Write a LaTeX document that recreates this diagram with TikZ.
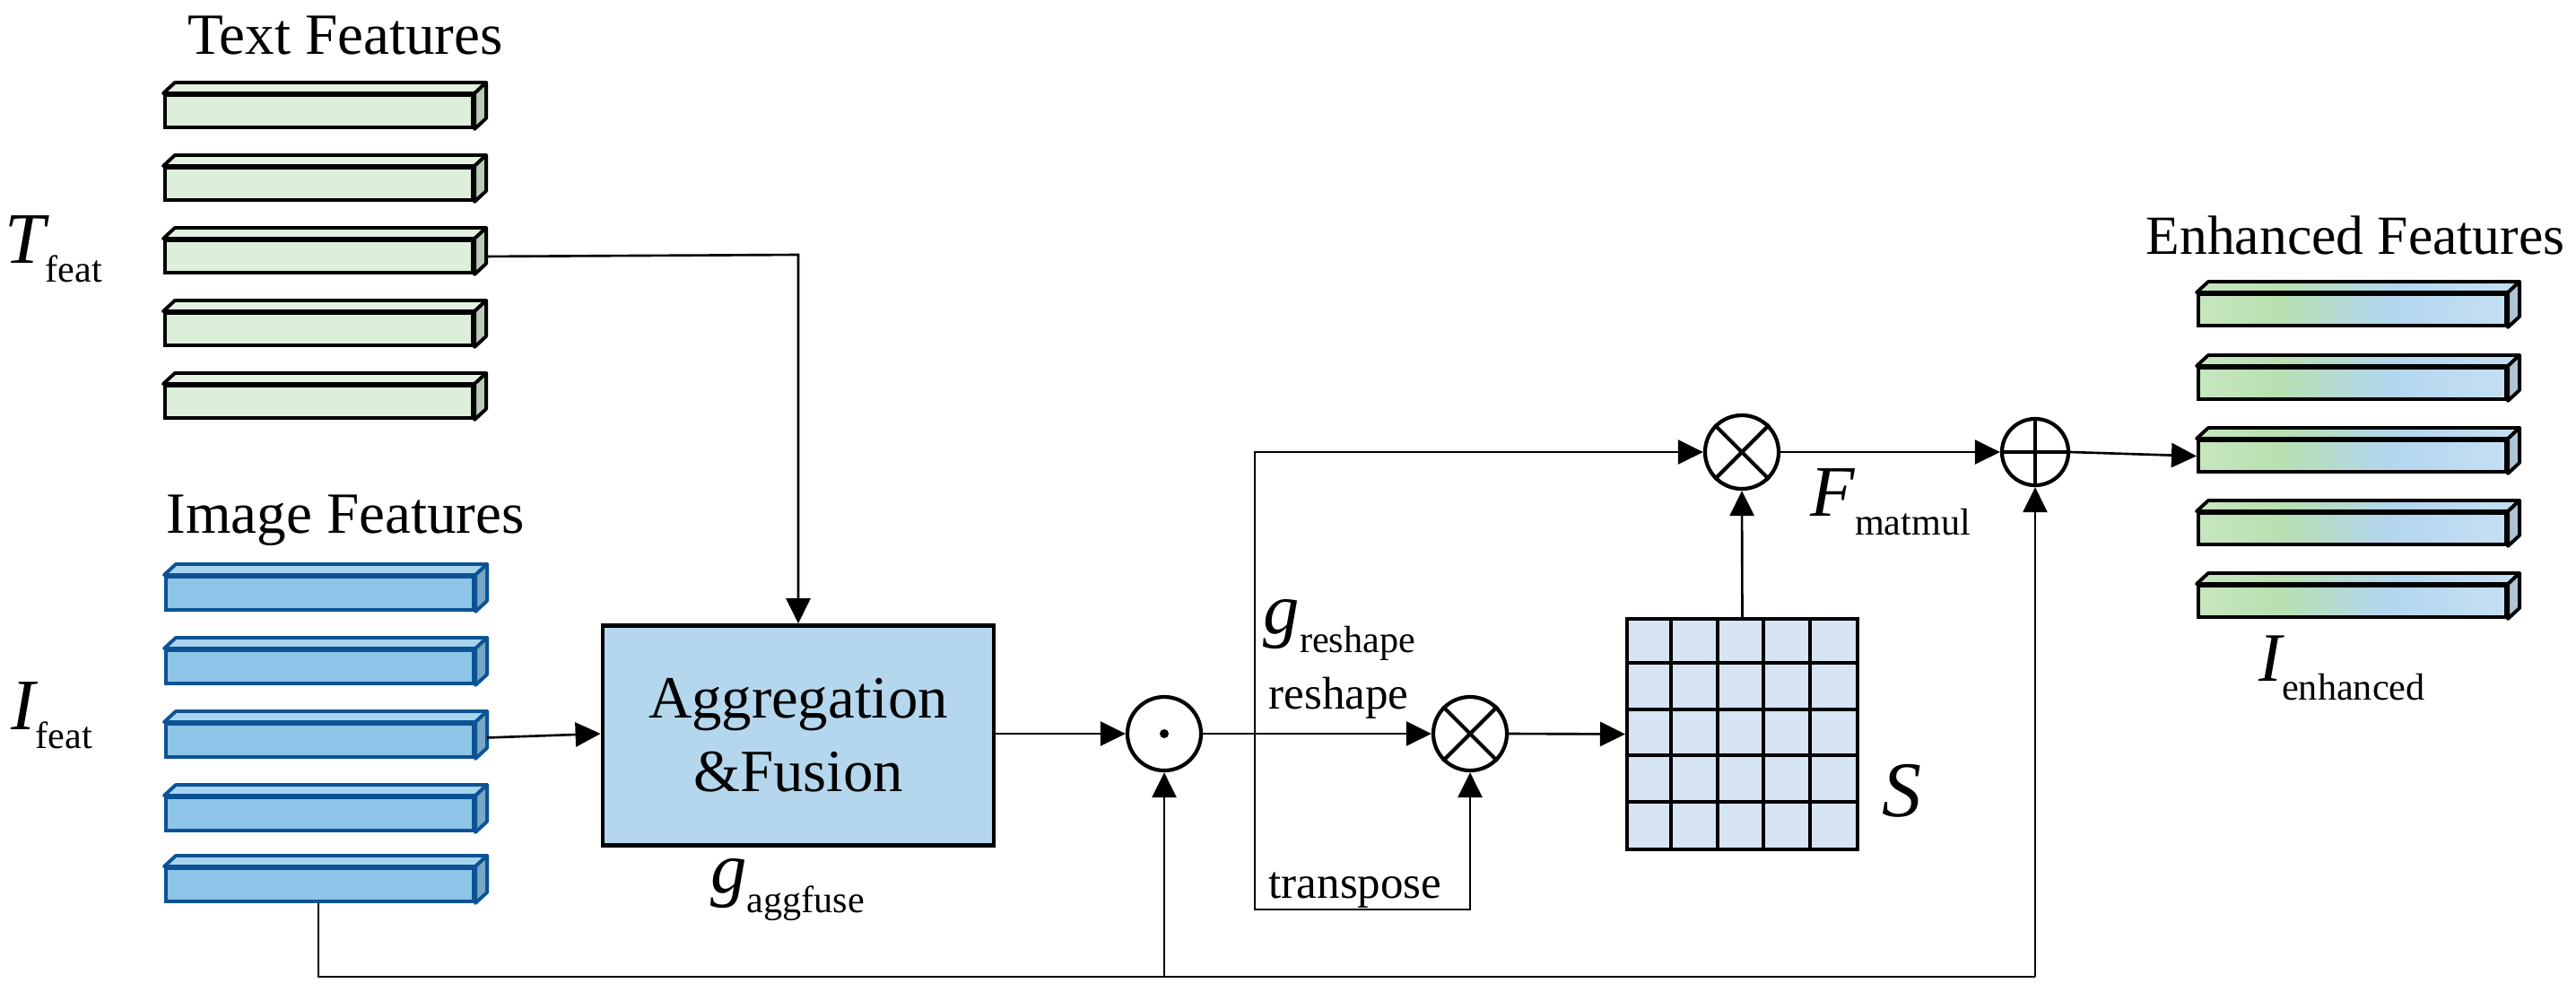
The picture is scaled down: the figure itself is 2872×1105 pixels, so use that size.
\documentclass[tikz,border=0pt]{standalone}
\usepackage{fontspec}
\setmainfont{Liberation Serif}
\usetikzlibrary{arrows.meta,calc}
\definecolor{tgreen}{HTML}{DDEFDA}
\definecolor{tgreentop}{HTML}{E3F2E0}
\definecolor{tgreenside}{HTML}{B9CCB6}
\definecolor{iblue}{HTML}{8EC4E8}
\definecolor{ibluetop}{HTML}{A8D3EF}
\definecolor{ibluebord}{HTML}{0B5394}
\definecolor{aggblue}{HTML}{B4D7EE}
\definecolor{gridblue}{HTML}{D6E4F3}
\definecolor{eside}{HTML}{AFC3D3}
\definecolor{ea}{HTML}{E4F2E0}
\definecolor{eb}{HTML}{B8E0B0}
\definecolor{ec}{HTML}{B3D6EF}
\definecolor{ed}{HTML}{DCEBF7}
\pgfdeclarehorizontalshading{enh}{100bp}{color(0bp)=(ea); color(38bp)=(eb); color(56bp)=(ec); color(100bp)=(ed)}
\newcommand\symb[3]{{\fontsize{#3}{#3}\selectfont\itshape #1}\raisebox{-6pt}{\fontsize{12}{12}\selectfont #2}}
\newcommand\barfaces[4]{%
  \draw[#4, line width=1.1pt, line join=round, #2] (#1.north west) -- ++(13,-12) -- ($(#1.north east)+(13,-12)$) -- (#1.north east) -- cycle;
  \draw[#4, line width=1.1pt, line join=round, #3] (#1.north east) -- ++(13,-12) -- ($(#1.south east)+(13,-12)$) -- (#1.south east) -- cycle;}
\begin{document}
\begin{tikzpicture}[x=0.01cm,y=-0.01cm,
  fbar/.style={draw, line width=1.1pt, minimum width=3.43cm, minimum height=0.36cm, inner sep=0pt, anchor=north west},
  conn/.style={line width=0.75pt, -{Triangle[length=2.8mm,width=2.7mm]}},
  line/.style={line width=0.75pt},
  op/.style={circle, draw, line width=1.2pt, minimum size=0.82cm, inner sep=0pt},
  title/.style={font=\fontsize{18.5}{18.5}\selectfont},
  small/.style={font=\fontsize{14.5}{14.5}\selectfont, anchor=base west, inner sep=0pt}]
\useasboundingbox (0,0) rectangle (2872,1105);
% text feature bars
\foreach \i/\y in {1/104,2/185,3/266,4/347,5/428}{
  \node[fbar, fill=tgreen] (t\i) at (182,\y) {};
  \barfaces{t\i}{fill=tgreentop}{fill=tgreenside}{draw=black}}
% image feature bars
\foreach \i/\y in {1/641,2/723,3/805,4/887,5/966}{
  \node[fbar, fill=iblue, draw=ibluebord, minimum height=0.37cm] (m\i) at (183,\y) {};
  \barfaces{m\i}{fill=ibluetop}{fill=iblue!85!black}{draw=ibluebord}}
% enhanced bars
\foreach \i/\y in {1/326,2/408,3/489,4/570,5/651}{
  \node[fbar, shading=enh, minimum height=0.35cm] (e\i) at (2449,\y) {};
  \barfaces{e\i}{shading=enh}{fill=eside}{draw=black}}
% titles
\node[title] (tt) at (385,40) {Text Features};
\node[title] (it) at (385,580) {Image Features};
\node[font=\fontsize{17.5}{17.5}\selectfont, anchor=east, inner sep=0pt] (et) at (2860,262) {Enhanced Features};
\node (tf) at (60,278) {\symb{T}{feat}{23}};
\node (if) at (58,798) {\symb{I}{feat}{23}};
\node (ie) at (2611,745) {\symb{I}{enhanced}{22}};
% aggregation box
\node[draw, line width=1.3pt, fill=aggblue, minimum width=4.36cm, minimum height=2.45cm, align=center, font=\fontsize{19}{23.3}\selectfont] (agg) at (890,820) {Aggregation\\\&Fusion};
\node (ga) at (878,992) {\symb{g}{aggfuse}{23}};
% operators
\node[op] (dot) at (1298,818) {};
\fill (dot.center) circle (5);
\node[op] (mul1) at (1639,818) {};
\draw[line width=1.2pt] (mul1.45) -- (mul1.225) (mul1.135) -- (mul1.315);
\node[op] (mul2) at (1942,504) {};
\draw[line width=1.2pt] (mul2.45) -- (mul2.225) (mul2.135) -- (mul2.315);
\node[op, minimum size=0.74cm] (add) at (2269,504) {};
\draw[line width=1.2pt] (add.north) -- (add.south) (add.west) -- (add.east);
% grid S
\node[draw, line width=1.1pt, fill=gridblue, minimum size=2.57cm, inner sep=0pt] (S) at (1942.5,818.5) {};
\foreach \k in {1,2,3,4}{
  \draw[line width=1.1pt] ($(S.north west)+(51.4*\k,0)$) -- ($(S.south west)+(51.4*\k,0)$);
  \draw[line width=1.1pt] ($(S.north west)+(0,51.4*\k)$) -- ($(S.north east)+(0,51.4*\k)$);}
\node[font=\fontsize{25}{25}\selectfont\itshape] (Sl) at (2120,882) {S};
% labels
\node[anchor=west, inner sep=0pt] (gr) at (1408,702) {\symb{g}{reshape}{23}};
\node[small] (rs) at (1414,790) {reshape};
\node[small] (tp) at (1414,1001) {transpose};
\node[anchor=west, inner sep=0pt] (fm) at (2018,560) {\symb{F}{matmul}{23}};
% coordinates
\coordinate (c1) at (890,284);
\coordinate (br) at (1399,818);
\coordinate (up) at (1399,504);
\coordinate (dn) at (1399,1014);
\coordinate (dn2) at (1639,1014);
\coordinate (b1) at (355,1089);
\coordinate (b2) at (1298,1089);
\coordinate (b3) at (2269,1089);
% connectors
\draw[conn] ($(t3.east)+(13,0)$) -- (c1) -- (agg.north);
\draw[conn] ($(m3.east)+(13,-3)$) -- (agg.west|-dot.west);
\draw[conn] (agg.east|-dot.west) -- (dot.west);
\draw[conn] (dot.east) -- (mul1.west);
\draw[conn] (br) -- (up) -- (mul2.west);
\draw[conn] (br) -- (dn) -- (dn2) -- (mul1.south);
\draw[conn] (mul1.east) -- (S.west);
\draw[conn] (S.north) -- (mul2.south);
\draw[conn] (mul2.east) -- (add.west);
\draw[conn] (add.east) -- (e3.west);
\draw[line] (m5.south-|b1) -- (b1) -- (b3);
\draw[conn] (b2) -- (dot.south);
\draw[conn] (b3) -- (add.south);
\end{tikzpicture}
\end{document}
